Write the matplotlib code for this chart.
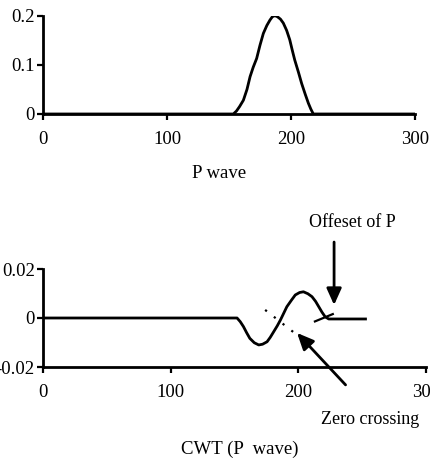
import numpy as np
import matplotlib
matplotlib.use("Agg")
import matplotlib.pyplot as plt

plt.rcParams['font.family'] = ['Liberation Serif', 'DejaVu Serif']

# P wave
p_x = [0, 150, 153.5, 156, 158.5, 161.6, 164.5, 167, 169.5, 172.3, 175, 177.7, 180.5, 183, 185,
       187, 189, 191.5, 193.8, 196.5, 199, 201, 203, 206, 208.6, 211.5, 214, 216, 218, 300]
p_y = [0, 0, 0, 0.006, 0.015, 0.028, 0.05, 0.076, 0.095, 0.113, 0.14, 0.164, 0.18, 0.191, 0.198,
       0.2, 0.198, 0.193, 0.185, 0.17, 0.151, 0.13, 0.11, 0.085, 0.062, 0.04, 0.022, 0.01, 0, 0]

# CWT of the P wave
cwt_x = [0, 152, 154.5, 157, 159.5, 162, 165.5, 169, 172, 175.5, 178, 180.7, 183.5, 186, 188.5,
         191, 194.5, 197.6, 201, 204, 207.5, 210.7, 213.5, 216, 218.5, 221, 223.8, 252.6]
cwt_y = [0, 0, -0.0015, -0.0035, -0.006, -0.0083, -0.0101, -0.011, -0.0107, -0.0097, -0.0079,
         -0.0056, -0.0032, -0.0008, 0.0019, 0.0046, 0.0072, 0.0094, 0.0104, 0.0107, 0.0099,
         0.0087, 0.0068, 0.0046, 0.0024, 0.0005, -0.0004, -0.0004]

# annotation lines
tangent_x = [174, 196]
tangent_y = [0.0033, -0.0057]
offset_x = [213, 227]
offset_y = [-0.0014, 0.0016]

W, H = 431, 466
fig = plt.figure(figsize=(W / 100, H / 100), dpi=100)

def style(ax):
    for s in ['top', 'right']:
        ax.spines[s].set_visible(False)
    for s in ['left', 'bottom']:
        ax.spines[s].set_linewidth(2)
    ax.tick_params(direction='out', length=4, width=1.6, labelsize=13.5, pad=2)
    ax.tick_params(axis='x', pad=8)

# top: P wave
ax1 = fig.add_axes([43 / W, 1 - 114 / H, (415 - 43) / W, (114 - 15.7) / H])
ax1.plot(p_x, p_y, color='black', lw=2)
ax1.set_xlim(0, 300)
ax1.set_ylim(0, 0.2)
ax1.set_xticks([0, 100, 200, 300])
ax1.set_yticks([0, 0.1, 0.2])
ax1.set_yticklabels(['0', '0.1', '0.2'])
style(ax1)

# bottom: CWT
ax2 = fig.add_axes([43 / W, 1 - 367 / H, (426 - 43) / W, (367 - 269) / H])
ax2.plot(cwt_x, cwt_y, color='black', lw=2)
ax2.plot(tangent_x, tangent_y, color='black', lw=1.6, linestyle=(0, (1, 4)))
ax2.plot(offset_x, offset_y, color='black', lw=1.6)
ax2.set_xlim(0, 300)
ax2.set_ylim(-0.02, 0.02)
ax2.set_xticks([0, 100, 200, 300])
ax2.set_yticks([-0.02, 0, 0.02])
ax2.set_yticklabels(['-0.02', '0', '0.02'])
style(ax2)

arrow = dict(arrowstyle='-|>,head_length=1.0,head_width=0.45', color='black', lw=2,
             shrinkA=0, shrinkB=0)
ax2.annotate('', xy=(228, 0.0053), xytext=(228, 0.031), arrowprops=arrow,
             annotation_clip=False)
ax2.annotate('', xy=(199, -0.0061), xytext=(237, -0.0273), arrowprops=arrow,
             annotation_clip=False)

fig.text(352 / W, 1 - 222 / H, 'Offeset of P', ha='center', va='center', fontsize=13)
fig.text(370 / W, 1 - 419 / H, 'Zero crossing', ha='center', va='center', fontsize=13)
fig.text(219 / W, 1 - 173 / H, 'P wave', ha='center', va='center', fontsize=13.5)
fig.text(240 / W, 1 - 449 / H, 'CWT (P  wave)', ha='center', va='center', fontsize=13.5)

fig.savefig('out.png', dpi=100)
